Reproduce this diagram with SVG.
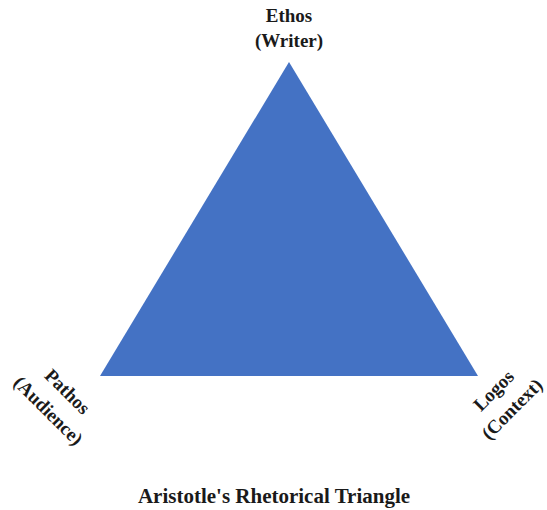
<svg xmlns="http://www.w3.org/2000/svg" width="547" height="510" viewBox="0 0 547 510">
<style>
.lbl{font-family:"Liberation Serif","Times New Roman",serif;font-weight:bold;font-size:19px;fill:#1a1a1a;text-anchor:middle}
.title{font-family:"Liberation Serif","Times New Roman",serif;font-weight:bold;font-size:21px;fill:#1a1a1a;text-anchor:middle}
</style>
<rect width="547" height="510" fill="#ffffff"/>
<g id="triangle">
<polygon points="289,62 100,376 478,376" fill="#4472C4"/>
</g>
<g id="ethos">
<text class="lbl" x="289" y="22">Ethos</text>
<text class="lbl" x="289" y="47">(Writer)</text>
</g>
<g id="pathos" transform="translate(58,401) rotate(45)">
<text class="lbl" x="0" y="-7">Pathos</text>
<text class="lbl" x="0" y="20">(Audience)</text>
</g>
<g id="logos" transform="translate(503,400) rotate(-45)">
<text class="lbl" x="0" y="-7">Logos</text>
<text class="lbl" x="0" y="19">(Context)</text>
</g>
<g id="caption">
<text class="title" x="274" y="503">Aristotle's Rhetorical Triangle</text>
</g>
</svg>
